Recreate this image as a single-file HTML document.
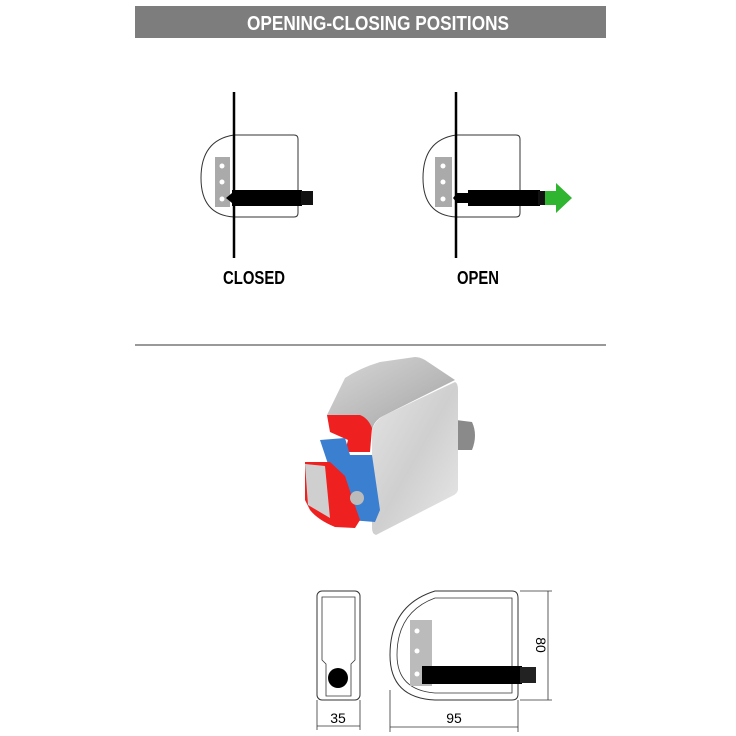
<!DOCTYPE html>
<html><head><style>body{margin:0;background:#fff}svg{display:block}</style></head>
<body>
<svg width="736" height="736" viewBox="0 0 736 736" xmlns="http://www.w3.org/2000/svg" font-family="Liberation Sans Narrow, Liberation Sans, sans-serif">
<rect x="135" y="6" width="471" height="32" fill="#7d7d7d"/>
<text x="378" y="30" text-anchor="middle" fill="#fff" font-weight="bold" font-size="20" textLength="262" lengthAdjust="spacingAndGlyphs">OPENING-CLOSING POSITIONS</text>

<!-- closed -->
<g>
<path d="M234 135 L294 135 Q298 135 298 139 L298 213 Q298 217 294 217 L234 217 Q201 215 201 178 Q201 140 234 135 Z" fill="#fff" stroke="#333" stroke-width="1"/>
<rect x="215" y="157" width="15" height="50" fill="#aaa"/>
<circle cx="222" cy="166" r="2.5" fill="#fff"/><circle cx="222" cy="182" r="2.5" fill="#fff"/><circle cx="222" cy="199" r="2.5" fill="#fff"/>
<line x1="234" y1="92" x2="234" y2="258" stroke="#000" stroke-width="2.5"/>
<rect x="232" y="190" width="70" height="16" fill="#000"/>
<rect x="301" y="191" width="12" height="14" fill="#111"/>
<path d="M226 198 L232 193 L232 203 Z" fill="#000"/>
<text x="254" y="284" text-anchor="middle" font-weight="bold" font-size="18" textLength="62" lengthAdjust="spacingAndGlyphs">CLOSED</text>
</g>

<!-- open -->
<g>
<path d="M456 135 L516 135 Q520 135 520 139 L520 213 Q520 217 516 217 L456 217 Q423 215 423 178 Q423 140 456 135 Z" fill="#fff" stroke="#333" stroke-width="1"/>
<rect x="435" y="157" width="17" height="50" fill="#aaa"/>
<circle cx="443" cy="166" r="2.5" fill="#fff"/><circle cx="443" cy="182" r="2.5" fill="#fff"/><circle cx="443" cy="199" r="2.5" fill="#fff"/>
<line x1="456" y1="92" x2="456" y2="258" stroke="#000" stroke-width="2.5"/>
<path d="M453 198 L457 193 L470 193 L470 203 L457 203 Z" fill="#000"/>
<rect x="468" y="190" width="72" height="16" fill="#000"/>
<rect x="538" y="191" width="9" height="14" fill="#111"/>
<path d="M545 191 L556 191 L556 183 L572 198 L556 213 L556 205 L545 205 Z" fill="#2fb52f"/>
<text x="478" y="284" text-anchor="middle" font-weight="bold" font-size="18" textLength="42" lengthAdjust="spacingAndGlyphs">OPEN</text>
</g>

<line x1="135" y1="345" x2="606" y2="345" stroke="#333" stroke-width="1"/>

<!-- 3D render -->
<defs>
<linearGradient id="gf" x1="0" y1="0" x2="1" y2="1"><stop offset="0" stop-color="#e4e4e4"/><stop offset="0.5" stop-color="#cfcfcf"/><stop offset="1" stop-color="#e8e8e8"/></linearGradient>
<linearGradient id="gt" x1="0" y1="0" x2="1" y2="1"><stop offset="0" stop-color="#d8d8d8"/><stop offset="0.6" stop-color="#b8b8b8"/><stop offset="1" stop-color="#9a9a9a"/></linearGradient>
</defs>
<path d="M456 420 L472 422 Q478 435 472 450 L456 450 Z" fill="#8a8a8a"/>
<path d="M372 430 Q375 420 385 415 L455 382 Q458 383 458 390 L458 490 Q457 494 452 496 L376 535 Q372 534 372 528 Z" fill="url(#gf)"/>
<path d="M327 415 L345 378 Q360 368 380 362 L415 357 Q420 357 425 360 L455 380 L385 415 Q374 420 372 430 L340 424 Z" fill="url(#gt)"/>
<path d="M327 415 L360 415 Q368 418 372 428 L370 452 L345 452 L348 440 L330 432 Z" fill="#ee2020"/>
<path d="M320 440 L345 438 L350 455 L372 455 L380 510 L375 522 L350 520 L340 500 Z" fill="#3b7fd1"/>
<path d="M305 462 L330 462 L345 476 L353 500 L360 520 L355 528 L335 527 Q318 520 310 510 L305 500 Z" fill="#ee2020"/>
<path d="M305 464 L325 466 L330 518 L308 505 Z" fill="#cfcfcf"/>
<circle cx="357" cy="498" r="7" fill="#bbb"/>

<!-- side view -->
<rect x="317" y="591" width="43" height="109" rx="5" fill="#fff" stroke="#333"/>
<path d="M322 597 L355 597 L355 660 L351 664 L351 696 L326 696 L326 664 L322 660 Z" fill="none" stroke="#333" stroke-width="0.8"/>
<circle cx="338" cy="678" r="10" fill="#000"/>
<line x1="317" y1="700" x2="317" y2="730" stroke="#333" stroke-width="0.8"/>
<line x1="360" y1="700" x2="360" y2="730" stroke="#333" stroke-width="0.8"/>
<line x1="317" y1="726" x2="360" y2="726" stroke="#333" stroke-width="0.8"/>
<text x="338" y="723" text-anchor="middle" font-family="Liberation Sans, sans-serif" font-size="14">35</text>

<!-- front view -->
<path d="M435 591 L512 591 Q518 591 518 598 L518 694 Q518 700 512 700 L435 700 Q390 698 390 655 Q390 605 435 591 Z" fill="#fff" stroke="#333"/>
<path d="M435 598 L512 598 L512 693 L435 693 Q397 690 397 655 Q397 612 435 598 Z" fill="none" stroke="#333" stroke-width="0.8"/>
<rect x="410" y="620" width="22" height="66" fill="#bbb"/>
<circle cx="417" cy="631" r="2.5" fill="#fff"/><circle cx="417" cy="651" r="2.5" fill="#fff"/><circle cx="417" cy="674" r="2.5" fill="#fff"/>
<rect x="422" y="666" width="100" height="18" fill="#000"/>
<rect x="520" y="667" width="16" height="16" fill="#222"/>
<line x1="390" y1="690" x2="390" y2="732" stroke="#333" stroke-width="0.8"/>
<line x1="518" y1="700" x2="518" y2="732" stroke="#333" stroke-width="0.8"/>
<line x1="390" y1="727" x2="518" y2="727" stroke="#333" stroke-width="0.8"/>
<text x="454" y="723" text-anchor="middle" font-family="Liberation Sans, sans-serif" font-size="14">95</text>
<line x1="520" y1="591" x2="552" y2="591" stroke="#333" stroke-width="0.8"/>
<line x1="520" y1="700" x2="552" y2="700" stroke="#333" stroke-width="0.8"/>
<line x1="548" y1="591" x2="548" y2="700" stroke="#333" stroke-width="0.8"/>
<text x="0" y="0" transform="translate(536,645) rotate(90)" text-anchor="middle" font-family="Liberation Sans, sans-serif" font-size="14">80</text>
</svg>
</body></html>
